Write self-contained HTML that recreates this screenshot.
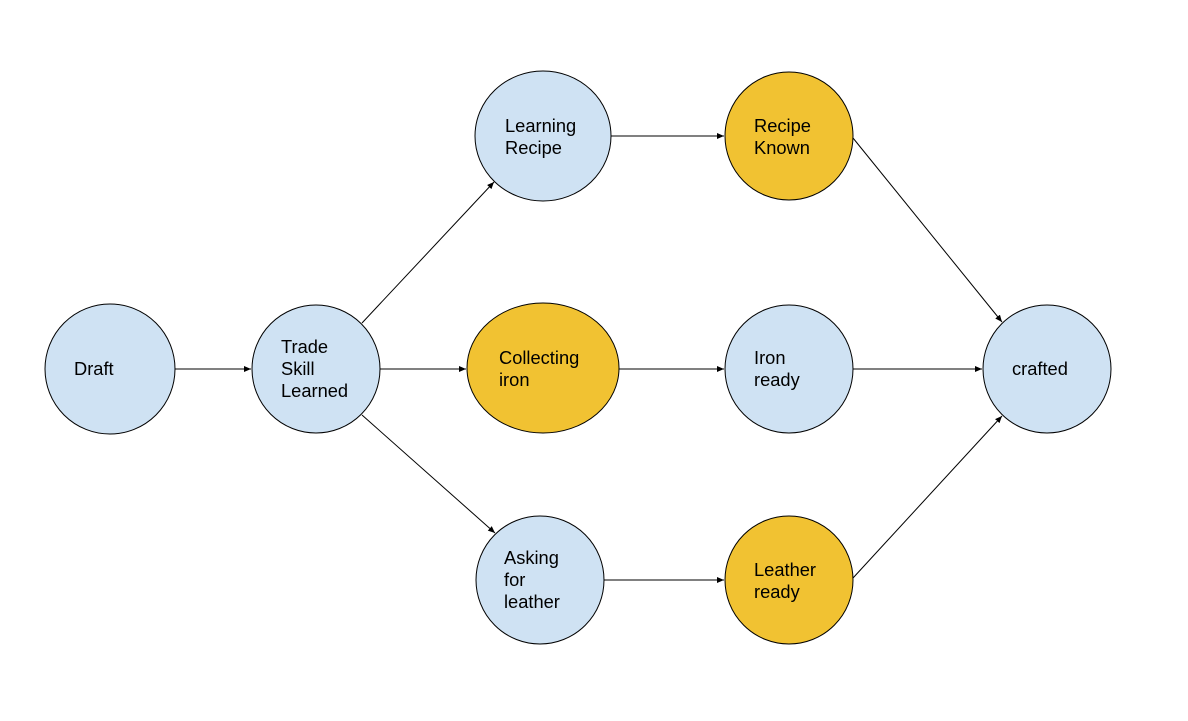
<!DOCTYPE html>
<html><head><style>
html,body{margin:0;padding:0;background:#fff;}
svg text{font-family:"Liberation Sans",Arial,sans-serif;font-size:18.3px;fill:#000;}
</style></head><body>
<svg width="1188" height="716" viewBox="0 0 1188 716" xmlns="http://www.w3.org/2000/svg">
<defs>
<marker id="a" markerWidth="8" markerHeight="8" refX="7" refY="3" orient="auto" markerUnits="userSpaceOnUse">
<path d="M0,0 L7,3 L0,6 z" fill="#000"/>
</marker>
</defs>
<g stroke="#000" stroke-width="1" fill="none">
<line x1="175" y1="369" x2="251" y2="369" marker-end="url(#a)"/>
<line x1="380" y1="369" x2="466" y2="369" marker-end="url(#a)"/>
<line x1="362" y1="323" x2="494" y2="182" marker-end="url(#a)"/>
<line x1="362" y1="415" x2="495" y2="533" marker-end="url(#a)"/>
<line x1="611" y1="136" x2="724" y2="136" marker-end="url(#a)"/>
<line x1="619" y1="369" x2="724" y2="369" marker-end="url(#a)"/>
<line x1="604" y1="580" x2="724" y2="580" marker-end="url(#a)"/>
<line x1="853" y1="369" x2="982" y2="369" marker-end="url(#a)"/>
<line x1="853" y1="138" x2="1002" y2="322" marker-end="url(#a)"/>
<line x1="853" y1="578" x2="1002" y2="416" marker-end="url(#a)"/>
</g>
<g stroke="#000" stroke-width="1">
<circle cx="110" cy="369" r="65" fill="#cfe2f3"/>
<circle cx="316" cy="369" r="64" fill="#cfe2f3"/>
<ellipse cx="543" cy="136" rx="68" ry="65" fill="#cfe2f3"/>
<circle cx="789" cy="136" r="64" fill="#f1c232"/>
<ellipse cx="543" cy="368" rx="76" ry="65" fill="#f1c232"/>
<circle cx="789" cy="369" r="64" fill="#cfe2f3"/>
<circle cx="1047" cy="369" r="64" fill="#cfe2f3"/>
<circle cx="540" cy="580" r="64" fill="#cfe2f3"/>
<circle cx="789" cy="580" r="64" fill="#f1c232"/>
</g>
<text x="74" y="375">Draft</text>
<text x="281" y="353">Trade</text>
<text x="281" y="375">Skill</text>
<text x="281" y="397">Learned</text>
<text x="505" y="132">Learning</text>
<text x="505" y="154">Recipe</text>
<text x="754" y="132">Recipe</text>
<text x="754" y="154">Known</text>
<text x="499" y="364">Collecting</text>
<text x="499" y="386">iron</text>
<text x="754" y="364">Iron</text>
<text x="754" y="386">ready</text>
<text x="1012" y="375">crafted</text>
<text x="504" y="564">Asking</text>
<text x="504" y="586">for</text>
<text x="504" y="608">leather</text>
<text x="754" y="576">Leather</text>
<text x="754" y="598">ready</text>
</svg>
</body></html>
